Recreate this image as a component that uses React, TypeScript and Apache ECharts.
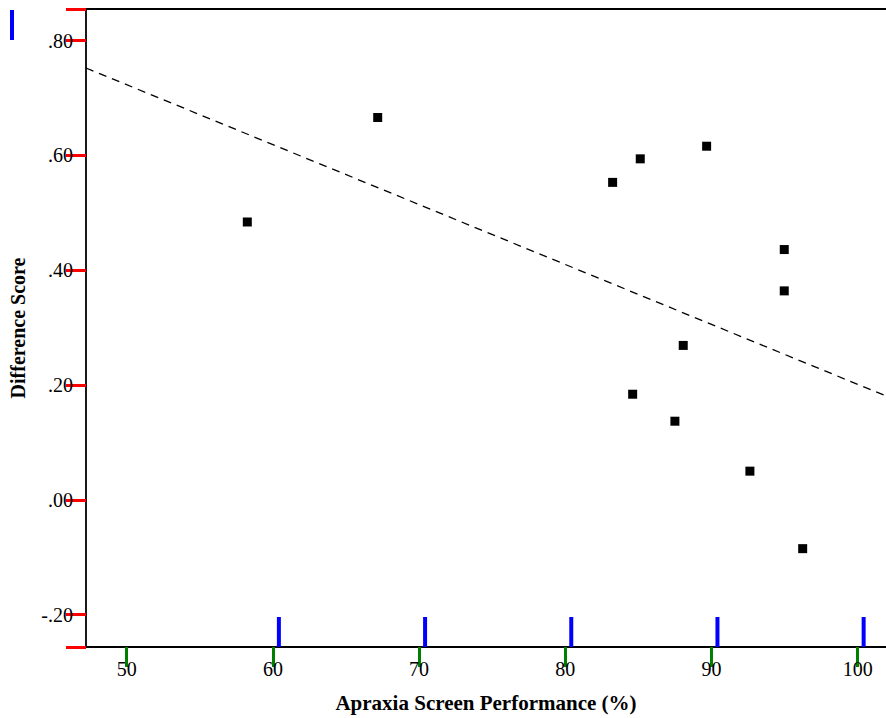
import React, { useEffect, useRef } from "react";
import * as echarts from "echarts";

// Data
const apraxiaScore = [58.25, 67.17, 83.24, 85.13, 89.67, 94.98, 94.98, 88.07, 84.61, 87.5, 92.63, 96.24];
const differenceScore = [0.484, 0.666, 0.553, 0.594, 0.616, 0.436, 0.364, 0.269, 0.184, 0.137, 0.05, -0.085];

const xTicks = [50, 60, 70, 80, 90, 100];
const yTicks = [-0.2, 0, 0.2, 0.4, 0.6, 0.8];

const xMin = 47.216;
const xMax = 101.94;
const yMin = -0.2563;
const yMax = 0.855;

const TICK_LEN = 11;

function fitLine(xs: number[], ys: number[]) {
  const n = xs.length;
  const mx = xs.reduce((a, b) => a + b, 0) / n;
  const my = ys.reduce((a, b) => a + b, 0) / n;
  let sxy = 0;
  let sxx = 0;
  for (let i = 0; i < n; i++) {
    sxy += (xs[i] - mx) * (ys[i] - my);
    sxx += (xs[i] - mx) * (xs[i] - mx);
  }
  const slope = sxy / sxx;
  const intercept = my - slope * mx;
  return { slope, intercept };
}

const fmtY = (v: number) => {
  const s = Math.abs(v).toFixed(2).replace(/^0/, "");
  return (v < -1e-9 ? "-" : "") + s;
};

export default function App() {
  const ref = useRef<HTMLDivElement>(null);

  useEffect(() => {
    if (!ref.current) return;
    const chart = echarts.init(ref.current, undefined, { renderer: "svg" });
    const { slope, intercept } = fitLine(apraxiaScore, differenceScore);
    const fitData = [
      [xMin, intercept + slope * xMin],
      [xMax, intercept + slope * xMax],
    ];
    const font = "Liberation Serif";
    chart.setOption({
      animation: false,
      backgroundColor: "#ffffff",
      grid: {
        left: 86,
        top: 9,
        right: 0,
        bottom: 69,
        show: false,
      },
      graphic: [
        { id: "testA", type: "rect", left: 10, top: 10, shape: { width: 20, height: 20 }, style: { fill: "red" } },
      ],
      xAxis: [
        {
          type: "value",
          min: xMin,
          max: xMax,
          name: "Apraxia Screen Performance (%)",
          nameLocation: "middle",
          nameGap: 45,
          nameTextStyle: { fontFamily: font, fontWeight: "bold", fontSize: 21, color: "#000" },
          axisLine: { show: true, onZero: false, lineStyle: { color: "#000", width: 1.8 } },
          axisTick: {
            show: true,
            length: 20,
            customValues: xTicks,
            lineStyle: { color: "green", width: 3 },
          },
          axisLabel: {
            customValues: xTicks,
            margin: 12,
            fontFamily: font,
            fontSize: 20,
            color: "#000",
          },
          splitLine: { show: false },
        },
        {
          type: "value",
          position: "top",
          min: xMin,
          max: xMax,
          axisLine: { show: true, onZero: false, lineStyle: { color: "#000", width: 1.8 } },
          axisTick: { show: false },
          axisLabel: { show: false },
          splitLine: { show: false },
        },
      ],
      yAxis: {
        type: "value",
        min: yMin,
        max: yMax,
        name: "Difference Score",
        nameLocation: "middle",
        nameGap: 58,
        nameTextStyle: { fontFamily: font, fontWeight: "bold", fontSize: 20, color: "#000" },
        axisLine: { show: true, onZero: false, lineStyle: { color: "#000", width: 1.8 } },
        axisTick: {
          show: true,
          length: 20,
          lineStyle: { color: "red", width: 3 },
        },
        axisLabel: {
          customValues: yTicks,
          margin: 13,
          fontFamily: font,
          fontSize: 20,
          color: "#000",
          formatter: (v: number) => fmtY(v),
        },
        splitLine: { show: false },
      },
      series: [
        {
          type: "line",
          data: fitData,
          symbol: "none",
          silent: true,
          clip: false,
          lineStyle: { color: "#000", width: 1.3, type: [8, 6] },
          z: 1,
        },
        {
          type: "scatter",
          data: apraxiaScore.map((x, i) => [x, differenceScore[i]]),
          symbol: "rect",
          symbolSize: 9,
          clip: false,
          itemStyle: { color: "#000", opacity: 1 },
          z: 2,
        },
      ],
    });

    const els: any[] = [];
    xTicks.forEach((v) => {
      const p = chart.convertToPixel({ xAxisIndex: 0, yAxisIndex: 0 }, [v, yMin]) as number[];
      els.push({
        type: "rect",
        shape: { x: p[0] + 4, y: p[1] - 30, width: 4, height: 30 },
        style: { fill: "blue" },
        z: 100,
      });
    });
    chart.setOption({ graphic: els });

    return () => chart.dispose();
  }, []);

  return (
    <div
      ref={ref}
      style={{ position: "fixed", left: 0, top: 0, width: 886, height: 718, background: "#fff" }}
    />
  );
}
